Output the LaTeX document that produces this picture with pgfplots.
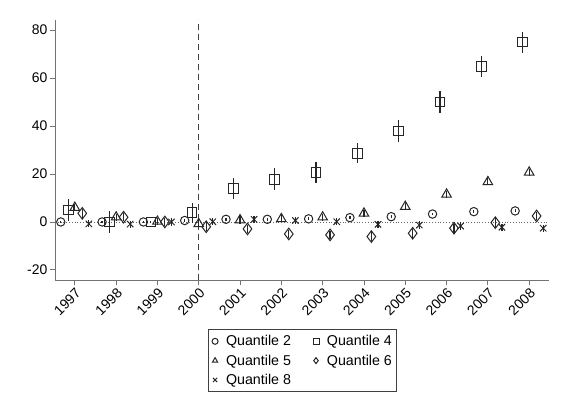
\documentclass[border=0pt]{standalone}
\usepackage{fontspec}
\setmainfont{Liberation Sans}
\usepackage{pgfplots}
\pgfplotsset{compat=1.18}
\usepackage{pgfplotstable}

\pgfplotstableread{
year y err
1997 0.0 0.6
1998 0.0 0.6
1999 0.0 0.6
2000 0.6 0.6
2001 1.1 0.6
2002 1.1 0.6
2003 1.3 0.6
2004 1.8 0.6
2005 2.2 0.6
2006 3.3 0.6
2007 4.3 0.6
2008 4.6 0.6
}\qtwo
\pgfplotstableread{
year y err
1997 5.0 4.5
1998 0.0 4.7
1999 0.0 0.5
2000 3.9 4.2
2001 14.0 4.5
2002 17.8 4.5
2003 20.7 4.4
2004 28.6 4.2
2005 38.0 4.5
2006 50.0 4.5
2007 64.7 4.3
2008 75.0 4.4
}\qfour
\pgfplotstableread{
year y err
1997 6.0 1.5
1998 2.0 1.5
1999 0.2 1.5
2000 -0.8 1.5
2001 0.8 1.5
2002 1.3 1.5
2003 2.0 1.5
2004 3.6 1.5
2005 6.4 1.5
2006 11.5 1.5
2007 16.7 1.5
2008 20.7 1.5
}\qfive
\pgfplotstableread{
year y err
1997 3.6 1.8
1998 2.0 1.8
1999 0.0 1.8
2000 -2.0 1.8
2001 -2.9 1.8
2002 -5.0 1.8
2003 -5.4 1.8
2004 -6.1 1.8
2005 -4.7 1.8
2006 -2.6 1.8
2007 -0.3 1.8
2008 2.5 1.8
}\qsix
\pgfplotstableread{
year y err
1997 -0.8 1.5
1998 -0.9 1.5
1999 0.0 1.5
2000 0.1 1.5
2001 1.1 1.5
2002 0.6 1.5
2003 0.1 1.5
2004 -1.0 1.5
2005 -1.3 1.5
2006 -1.7 1.5
2007 -2.2 1.5
2008 -2.6 1.5
}\qeight

\begin{document}
\begin{tikzpicture}
\path[use as bounding box] (-55bp,-133bp) rectangle (506bp,280bp);
\begin{axis}[
  at={(0,0)}, anchor=south west,
  scale only axis, width=494bp, height=260bp,
  xmin=1996.52, xmax=2008.48, ymin=-24.2, ymax=84.2,
  axis lines*=left,
  axis line style={black!55, line width=0.9bp},
  xtick={1997,1998,...,2008},
  ytick={-20,0,20,40,60,80},
  /pgf/number format/assume math mode=true,
  /pgf/number format/1000 sep={},
  tick align=outside, major tick length=5bp,
  tick style={black!55, line width=0.9bp},
  x tick label style={rotate=45, anchor=north east, inner sep=1.5bp, font=\fontsize{14}{16}\selectfont},
  y tick label style={font=\fontsize{14}{16}\selectfont, inner sep=2.5bp},
  legend columns=2,
  legend cell align=left,
  legend style={at={(0.5,-0.1885)}, anchor=north, draw=black!75, line width=0.8bp,
    font=\fontsize{14.3}{17}\selectfont, row sep=3.5bp, inner xsep=2bp, inner ysep=4bp,
    /tikz/every even column/.append style={column sep=18bp}},
  legend image code/.code={\path[draw=none,fill=none] (-1bp,-1bp) rectangle (13bp,1bp); \draw[#1, mark size=3bp, line width=0.9bp] plot coordinates {(4bp,0bp)};},
  error bars/error bar style={line width=1.2bp, black!85},
  error bars/error mark=none,
  clip=false,
]
\addplot[black!60, dotted, line width=0.8bp, forget plot] coordinates {(1996.52,0) (2008.48,0)};
\addplot[black!75, dash pattern=on 6bp off 4bp, line width=1.1bp, forget plot] coordinates {(2000,-24.2) (2000,84.2)};

\addplot[only marks, mark=o, mark size=4.2bp, mark options={draw=black!85, line width=1bp},
  error bars/.cd, y dir=both, y explicit]
  table[x expr=\thisrow{year}-0.34, y=y, y error=err] {\qtwo};
\addlegendentry{Quantile 2}
\addplot[only marks, mark=square, mark size=4.8bp, mark options={draw=black!85, line width=1bp},
  error bars/.cd, y dir=both, y explicit]
  table[x expr=\thisrow{year}-0.16, y=y, y error=err] {\qfour};
\addlegendentry{Quantile 4}
\addplot[only marks, mark=triangle, mark size=5.5bp, mark options={draw=black!85, line width=1bp},
  error bars/.cd, y dir=both, y explicit]
  table[x expr=\thisrow{year}, y=y, y error=err] {\qfive};
\addlegendentry{Quantile 5}
\addplot[only marks, mark=diamond, mark size=5.8bp, mark options={draw=black!85, line width=1bp},
  error bars/.cd, y dir=both, y explicit]
  table[x expr=\thisrow{year}+0.18, y=y, y error=err] {\qsix};
\addlegendentry{Quantile 6}
\addplot[only marks, mark=x, mark size=4.5bp, mark options={draw=black!85, line width=1bp},
  error bars/.cd, y dir=both, y explicit]
  table[x expr=\thisrow{year}+0.34, y=y, y error=err] {\qeight};
\addlegendentry{Quantile 8}
\end{axis}
\end{tikzpicture}
\end{document}
